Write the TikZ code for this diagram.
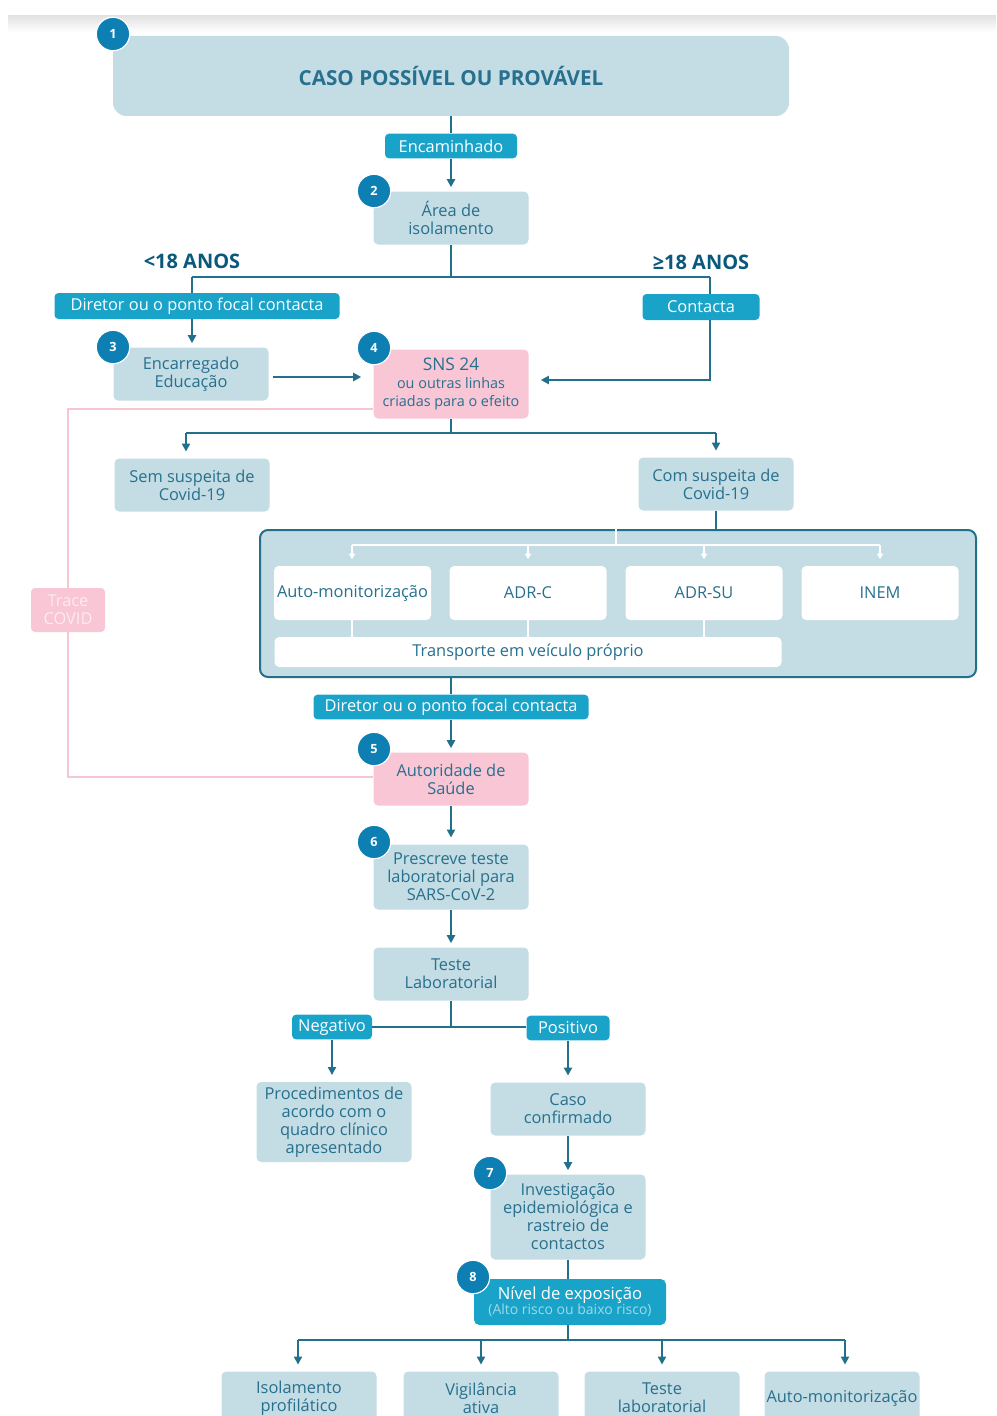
\documentclass[tikz,border=0pt]{standalone}
\usepackage{fontspec}
\setmainfont{Open Sans}
\usetikzlibrary{arrows.meta}
\definecolor{boxfill}{HTML}{C4DCE4}
\definecolor{txt}{HTML}{27708E}
\definecolor{pill}{HTML}{1AA3C9}
\definecolor{numc}{HTML}{0E7FB3}
\definecolor{lnc}{HTML}{23708A}
\definecolor{pinkfill}{HTML}{F8C6D5}
\definecolor{pinkln}{HTML}{F6C6D3}
\definecolor{pinktxt}{HTML}{FDEBF1}
\definecolor{subtxt}{HTML}{9ED9EC}
\begin{document}
\begin{tikzpicture}[x=0.75pt,y=-0.75pt,
  box/.style={fill=boxfill, rounded corners=3.5pt, text=txt, align=center,
    font=\fontsize{12.3}{13.5}\selectfont, inner sep=0pt, minimum width=116.25pt, minimum height=39.75pt},
  pinkbox/.style={box, fill=pinkfill},
  wbox/.style={fill=white, rounded corners=3.5pt, text=txt, align=center,
    font=\fontsize{12.3}{13.5}\selectfont, inner sep=0pt, minimum width=117.75pt, minimum height=40.5pt},
  pillbox/.style={fill=pill, rounded corners=3pt, text=white, align=center,
    font=\fontsize{12.3}{13}\selectfont, inner sep=0pt, minimum height=18.5pt},
  num/.style={circle, fill=numc, draw=white, line width=0.8pt, text=white,
    font=\fontsize{9.5}{10}\bfseries\selectfont, minimum size=25pt, inner sep=0pt},
  ln/.style={draw=lnc, line width=1.5pt},
  arr/.style={ln, -{Triangle[length=6pt,width=6pt]}},
  wln/.style={draw=white, line width=0.8pt},
  warr/.style={wln, -{Triangle[length=4pt,width=4.5pt]}},
  pk/.style={draw=pinkln, line width=1.2pt},
  agelbl/.style={text=numc!70!black, font=\fontsize{15}{16}\bfseries\selectfont, inner sep=0pt}
]
\useasboundingbox (0,0) rectangle (996,1416);
\clip (0,0) rectangle (996,1416);
\shade[top color=gray!22, bottom color=white] (8,16) rectangle (996,32);

% Box 1
\node[box, minimum width=507pt, minimum height=60pt, rounded corners=10pt,
  font=\fontsize{15.5}{17}\bfseries\selectfont] (n1) at (451,76) {CASO POSSÍVEL OU PROVÁVEL};
\node[num] (c1) at (113,34) {1};

\node[pillbox, minimum width=99pt] (enc) at (451,146) {Encaminhado};
\node[box] (n2) at (451,218) {Área de\\isolamento};
\node[num] (c2) at (374,191) {2};

\node[agelbl] (lt18) at (192,261) {<18 ANOS};
\node[agelbl] (ge18) at (701,262) {≥18 ANOS};

\coordinate (j1) at (451,277);
\coordinate (jl) at (192,277);
\coordinate (jr) at (710,277);

\node[pillbox, minimum width=213.75pt, minimum height=19.5pt] (dir1) at (197,306) {Diretor ou o ponto focal contacta};
\node[pillbox, minimum width=87.75pt, minimum height=19.5pt] (cont) at (701,307) {Contacta};

\node[box] (n3) at (191,374) {Encarregado\\Educação};
\node[num] (c3) at (113,347) {3};

\node[pinkbox, minimum height=51.75pt] (n4) at (451,384)
  {{\fontsize{13}{15}\selectfont SNS 24}\\{\fontsize{10.8}{14}\selectfont ou outras linhas}\\{\fontsize{10.8}{14}\selectfont criadas para o efeito}};
\node[num] (c4) at (374,348) {4};

\coordinate (j4) at (451,433);
\coordinate (j4l) at (186,433);
\coordinate (j4r) at (716,433);

\node[box] (sem) at (192,485) {Sem suspeita de\\Covid-19};
\node[box] (com) at (716,484) {Com suspeita de\\Covid-19};

% container
\node[fill=boxfill, draw=lnc, line width=1.5pt, rounded corners=6pt, minimum width=537pt,
  minimum height=110.25pt, inner sep=0pt] (ctn) at (618,603.5) {};
\coordinate (wt) at (616,545);
\coordinate (wl) at (352,545);
\coordinate (wr) at (880,545);
\node[wbox] (wa) at (352.5,593) {Auto-monitorização};
\node[wbox] (wb) at (528,593) {ADR-C};
\node[wbox] (wc) at (704,593) {ADR-SU};
\node[wbox] (wd) at (880,593) {INEM};
\node[wbox, minimum width=380.25pt, minimum height=22.5pt] (tr) at (528,652) {Transporte em veículo próprio};

\node[pillbox, minimum width=206.25pt] (dir2) at (451,707) {Diretor ou o ponto focal contacta};
\node[pinkbox] (n5) at (451,779) {Autoridade de\\Saúde};
\node[num] (c5) at (374,749) {5};

\node[fill=pinkfill, rounded corners=3pt, text=pinktxt, align=center,
  font=\fontsize{12.3}{13.5}\selectfont, inner sep=0pt, minimum width=55.5pt, minimum height=33pt] (trace) at (68,610) {Trace\\COVID};

\node[box, minimum height=48.75pt] (n6) at (451,877) {Prescreve teste\\laboratorial para\\SARS-CoV-2};
\node[num] (c6) at (374,842) {6};

\node[box] (lab) at (451,974) {Teste\\Laboratorial};
\coordinate (j6) at (451,1027);
\node[pillbox, minimum width=60pt] (neg) at (332,1027) {Negativo};
\node[pillbox, minimum width=62.25pt] (pos) at (568,1028) {Positivo};

\node[box, minimum height=60pt] (proc) at (334,1122) {Procedimentos de\\acordo com o\\quadro clínico\\apresentado};
\node[box] (caso) at (568,1109) {Caso\\confirmado};

\node[box, minimum height=63.75pt] (n7) at (568,1217) {Investigação\\epidemiológica e\\rastreio de\\contactos};
\node[num] (c7) at (490,1173) {7};

\node[fill=pill, rounded corners=4pt, align=center, inner sep=0pt, minimum width=144pt, minimum height=34.5pt] (n8) at (570,1302)
  {\textcolor{white}{\fontsize{12.5}{13}\selectfont Nível de exposição}\\[-1pt]
   \textcolor{subtxt}{\fontsize{10.5}{11}\selectfont (Alto risco ou baixo risco)}};
\node[num] (c8) at (473,1277) {8};

\coordinate (j8) at (568,1340);
\coordinate (j8l) at (298,1340);
\coordinate (j8r) at (845,1340);

\node[box] (b1) at (299,1398) {Isolamento\\profilático};
\node[box] (b2) at (481,1398) {Vigilância\\ativa};
\node[box] (b3) at (662,1398) {Teste\\laboratorial};
\node[box] (b4) at (842,1398) {Auto-monitorização};

% ---- connectors ----
\draw[ln] (n1.south) -- (enc.north);
\draw[arr, shorten >=3pt] (enc.south) -- (n2.north);
\draw[ln] (n2.south) -- (j1);
\draw[ln] (jl) -- (jr);
\draw[ln] (jl) -- (dir1.north -| jl);
\draw[arr, shorten >=3pt] (dir1.south -| jl) -- (n3.north -| jl);
\draw[ln] (jr) -- (cont.north -| jr);
\draw[arr, shorten >=9pt] (cont.south -| jr) |- ([yshift=3pt]n4.east);
\draw[arr, shorten <=3pt, shorten >=9pt] ([yshift=-2.25pt]n3.east) -- ([yshift=-2.25pt]n3.east -| n4.west);
\draw[ln] (n4.south) -- (j4);
\draw[ln] (j4l) -- (j4r);
\draw[arr, shorten >=5pt] (j4l) -- (sem.north -| j4l);
\draw[arr, shorten >=5pt] (j4r) -- (com.north -| j4r);
\draw[ln] (com.south) -- (com.south |- ctn.north);
\draw[wln] (wt |- ctn.north) -- (wt);
\draw[wln] (wl) -- (wr);
\draw[warr, shorten >=5pt] (wl) -- (wa.north -| wl);
\draw[warr, shorten >=5pt] (wb.north |- wl) -- (wb.north);
\draw[warr, shorten >=5pt] (wc.north |- wl) -- (wc.north);
\draw[warr, shorten >=5pt] (wr) -- (wd.north -| wr);
\draw[wln] (wa.south -| wl) -- (tr.north -| wl);
\draw[wln] (wb.south) -- (tr.north -| wb.south);
\draw[wln] (wc.south) -- (tr.north -| wc.south);
\draw[ln] (ctn.south -| n5.north) -- (dir2.north);
\draw[arr, shorten >=3pt] (dir2.south) -- (n5.north);
\draw[pk] ([yshift=-18.75pt]n4.west) -| (trace.north);
\draw[pk] (trace.south) |- ([yshift=1.5pt]n5.west);
\draw[arr, shorten >=5pt] (n5.south) -- (n6.north);
\draw[arr, shorten >=3pt] (n6.south) -- (lab.north);
\draw[ln] (lab.south) -- (j6);
\draw[ln] (neg.east) -- (neg.east -| pos.west);
\draw[arr, shorten >=5pt] (neg.south) -- (proc.north -| neg.south);
\draw[arr, shorten >=5pt] (pos.south) -- (caso.north -| pos.south);
\draw[arr, shorten >=3pt] (caso.south) -- (n7.north);
\draw[ln] (n7.south) -- (n8.north -| n7.south);
\draw[ln] (n8.south -| j8) -- (j8);
\draw[ln] (j8l) -- (j8r);
\draw[arr, shorten >=5pt] (j8l) -- (b1.north -| j8l);
\draw[arr, shorten >=5pt] (b2.north |- j8) -- (b2.north);
\draw[arr, shorten >=5pt] (b3.north |- j8) -- (b3.north);
\draw[arr, shorten >=5pt] (j8r) -- (b4.north -| j8r);

% number circles on top
\node[num] at (c1) {1};
\node[num] at (c2) {2};
\node[num] at (c3) {3};
\node[num] at (c4) {4};
\node[num] at (c5) {5};
\node[num] at (c6) {6};
\node[num] at (c7) {7};
\node[num] at (c8) {8};
\end{tikzpicture}
\end{document}
